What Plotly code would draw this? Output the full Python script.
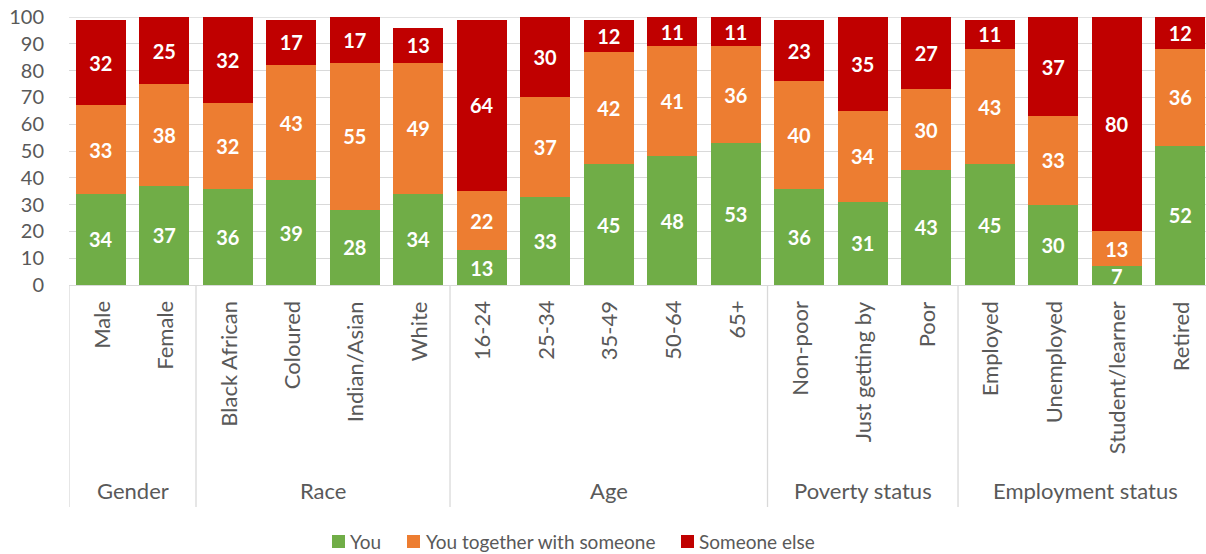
import plotly.graph_objects as go

categories = ["Male", "Female", "Black African", "Coloured", "Indian/Asian", "White",
              "16-24", "25-34", "35-49", "50-64", "65+",
              "Non-poor", "Just getting by", "Poor",
              "Employed", "Unemployed", "Student/learner", "Retired"]
groups = ["Gender", "Race", "Age", "Poverty status", "Employment status"]
group_sizes = [2, 4, 5, 3, 4]

you = [34, 37, 36, 39, 28, 34, 13, 33, 45, 48, 53, 36, 31, 43, 45, 30, 7, 52]
together = [33, 38, 32, 43, 55, 49, 22, 37, 42, 41, 36, 40, 34, 30, 43, 33, 13, 36]
someone_else = [32, 25, 32, 17, 17, 13, 64, 30, 12, 11, 11, 23, 35, 27, 11, 37, 80, 12]

series_names = ["You", "You together with someone", "Someone else"]
colors = ["#70AD47", "#ED7D31", "#C00000"]
y_ticks = list(range(0, 101, 10))

FONT = "Lato"
GREY = "#595959"
LINE = "#D9D9D9"

W, H = 1206, 554
PLOT_L, PLOT_T, PLOT_B = 69, 17, 285  # page pixels
ML, MR, MT = PLOT_L, 0, PLOT_T
MB = H - PLOT_B
plot_w = W - ML - MR
plot_h = H - MT - MB


def px_to_paper_x(px):
    return (px - PLOT_L) / plot_w


def px_to_paper_y(py):
    return (PLOT_B - py) / plot_h


x = list(range(len(categories)))
fig = go.Figure()
for name, vals, col in zip(series_names, [you, together, someone_else], colors):
    fig.add_trace(go.Bar(
        x=x, y=vals, name=name, marker=dict(color=col, line=dict(width=0)),
        text=vals, textposition="inside", insidetextanchor="middle", textangle=0,
        textfont=dict(family=FONT, size=20, color="white", weight="bold"),
        showlegend=False, cliponaxis=True,
    ))

annotations = []
for i, c in enumerate(categories):
    annotations.append(dict(
        x=i, xref="x", y=px_to_paper_y(299), yref="paper", text=c, textangle=-90,
        xanchor="center", yanchor="top", showarrow=False,
        font=dict(family=FONT, size=22, color=GREY)))

shapes = []
shapes.append(dict(type="line", xref="paper", yref="y", x0=0, x1=1,
                   y0=y_ticks[-1], y1=y_ticks[-1], layer="below",
                   line=dict(color=LINE, width=1.3)))
start = 0
bounds = [-0.5]
for g, n in zip(groups, group_sizes):
    mid = start + (n - 1) / 2
    annotations.append(dict(
        x=mid, xref="x", y=px_to_paper_y(491), yref="paper", text=g,
        xanchor="center", yanchor="middle", showarrow=False,
        font=dict(family=FONT, size=22, color=GREY)))
    start += n
    bounds.append(start - 0.5)
for b in bounds:
    shapes.append(dict(type="line", xref="x", yref="paper", x0=b, x1=b,
                       y0=0, y1=px_to_paper_y(507),
                       line=dict(color=LINE, width=1.3)))

leg_items = [(332, 348), (407, 424), (681, 697)]
for (sq, tx), name, col in zip(leg_items, series_names, colors):
    shapes.append(dict(type="rect", xref="paper", yref="paper",
                       x0=px_to_paper_x(sq), x1=px_to_paper_x(sq + 13),
                       y0=px_to_paper_y(548), y1=px_to_paper_y(535),
                       fillcolor=col, line=dict(width=0)))
    annotations.append(dict(
        x=px_to_paper_x(tx), xref="paper", y=px_to_paper_y(541), yref="paper",
        text=name, xanchor="left", yanchor="middle", showarrow=False,
        font=dict(family=FONT, size=19, color=GREY)))

fig.update_layout(
    barmode="stack", bargap=0.213,
    width=W, height=H, autosize=False,
    margin=dict(l=ML, r=MR, t=MT, b=MB, pad=0),
    plot_bgcolor="white", paper_bgcolor="white",
    uniformtext=dict(minsize=20, mode="show"),
    xaxis=dict(range=[-0.5, 17.405], showticklabels=False, showgrid=False,
               zeroline=False, showline=True, linecolor=LINE, linewidth=1.3,
               ticks=""),
    yaxis=dict(range=[0, 100], tickvals=y_ticks, showgrid=True, gridcolor=LINE,
               gridwidth=1.3, zeroline=False, showline=False,
               tickfont=dict(family=FONT, size=20, color=GREY),
               ticklabelstandoff=24, ticklabeloverflow="allow"),
    annotations=annotations, shapes=shapes, showlegend=False,
)

fig.write_html(
    "out.html",
    config={"displayModeBar": False},
    post_script="document.body.style.margin='0';document.documentElement.style.overflow='hidden';",
)
